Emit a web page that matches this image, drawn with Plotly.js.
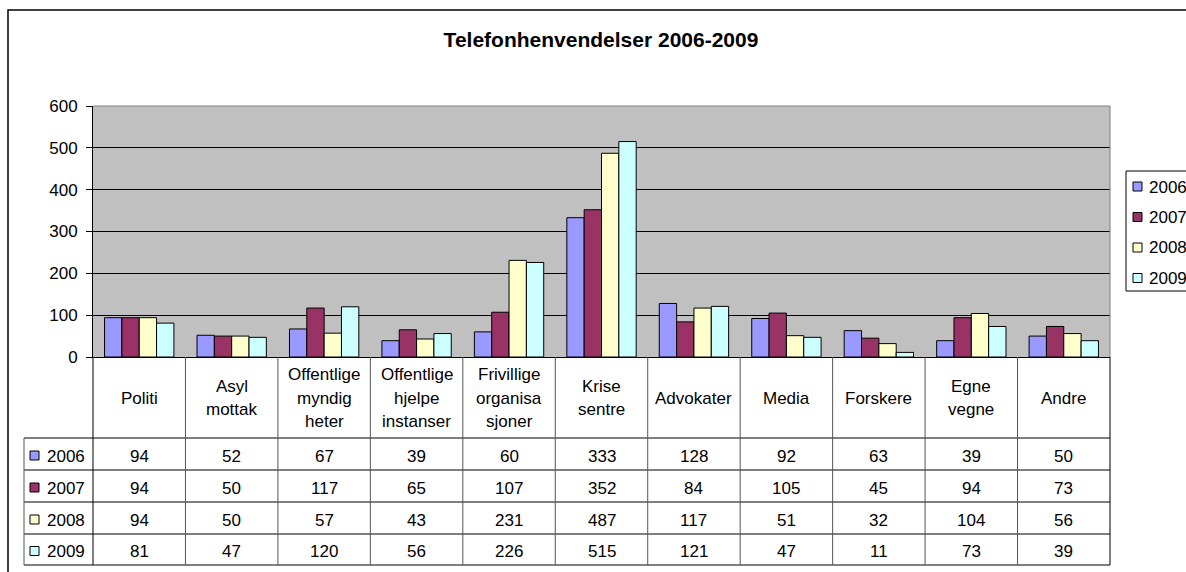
<!DOCTYPE html>
<html>
<head>
<meta charset="utf-8">
<script src="https://cdn.plot.ly/plotly-3.0.1.min.js"></script>
<style>
  body { margin: 0; background: #fff; }
  #chart { width: 1186px; height: 572px; }
</style>
</head>
<body>
<div id="chart"></div>
<script>
// categories (line breaks as in the original table header)
const categories = ['Politi', 'Asyl<br>mottak', 'Offentlige<br>myndig<br>heter',
  'Offentlige<br>hjelpe<br>instanser', 'Frivillige<br>organisa<br>sjoner',
  'Krise<br>sentre', 'Advokater', 'Media', 'Forskere', 'Egne<br>vegne', 'Andre'];
const years = ['2006', '2007', '2008', '2009'];
const v2006 = [94, 52, 67, 39, 60, 333, 128, 92, 63, 39, 50];
const v2007 = [94, 50, 117, 65, 107, 352, 84, 105, 45, 94, 73];
const v2008 = [94, 50, 57, 43, 231, 487, 117, 51, 32, 104, 56];
const v2009 = [81, 47, 120, 56, 226, 515, 121, 47, 11, 73, 39];
const yTicks = [0, 100, 200, 300, 400, 500, 600];

const colors = ['#9999FF', '#993366', '#FFFFCC', '#CCFFFF'];
const series = [v2006, v2007, v2008, v2009];
const fontFam = 'Liberation Sans, Arial, sans-serif';
const txtSize = 17;

// plot area in pixels, helpers to go from pixels to paper coords
const L = 93, R = 1110, T = 106, B = 357;
function fx(p) { return (p - L) / (R - L); }
function fy(p) { return (B - p) / (B - T); }
const colW = (R - L) / categories.length;

var data = years.map(function (yr, k) {
  return {
    type: 'bar',
    x: categories,
    y: series[k],
    name: yr,
    marker: { color: colors[k], line: { color: '#000', width: 1 } },
    hoverinfo: 'none',
    showlegend: false
  };
});

var shapes = [];
var annotations = [];

function hline(y, x0, x1, color) {
  shapes.push({ type: 'line', xref: 'paper', yref: 'paper', x0: fx(x0), x1: fx(x1),
    y0: fy(y), y1: fy(y), line: { color: color, width: 1 } });
}
function vline(x, y0, y1, color) {
  shapes.push({ type: 'line', xref: 'paper', yref: 'paper', x0: fx(x), x1: fx(x),
    y0: fy(y0), y1: fy(y1), line: { color: color, width: 1 } });
}

// outer chart frame (runs off the right/bottom edge like the original)
shapes.push({ type: 'rect', xref: 'paper', yref: 'paper', x0: fx(8), x1: fx(1220),
  y0: fy(10), y1: fy(600), line: { color: '#000', width: 1.5 } });

// grey top/right edge of the plot area
hline(T, L, R, '#808080');
vline(R, T, B, '#808080');

// data table
const rowTops = [438, 470, 502, 534, 565];
rowTops.forEach(function (y) { hline(y, 24, R, '#000'); });
vline(24, 438, 565, '#555');
vline(L, B, 565, '#000');
for (let k = 1; k < categories.length; k++) vline(L + k * colW, B, 565, '#555');
vline(R, B, 565, '#000');

// header cells
categories.forEach(function (c, i) {
  const lines = c.split('<br>');
  lines.forEach(function (ln, j) {
    const yc = 398 + (j - (lines.length - 1) / 2) * 23.5;
    annotations.push({ xref: 'x', yref: 'paper', x: i, y: fy(yc), text: ln,
      showarrow: false, xanchor: 'center', yanchor: 'middle',
      font: { family: fontFam, size: txtSize, color: '#000' } });
  });
});

// value rows
years.forEach(function (yr, k) {
  const yc = (rowTops[k] + rowTops[k + 1]) / 2 + 2;
  shapes.push({ type: 'rect', xref: 'paper', yref: 'paper', x0: fx(30), x1: fx(39),
    y0: fy(yc - 5), y1: fy(yc + 4), fillcolor: colors[k], line: { color: '#000', width: 1 } });
  annotations.push({ xref: 'paper', yref: 'paper', x: fx(45), y: fy(yc), text: yr,
    showarrow: false, xanchor: 'left', yanchor: 'middle',
    font: { family: fontFam, size: txtSize, color: '#000' } });
  series[k].forEach(function (v, i) {
    annotations.push({ xref: 'x', yref: 'paper', x: i, y: fy(yc), text: String(v),
      showarrow: false, xanchor: 'center', yanchor: 'middle',
      font: { family: fontFam, size: txtSize, color: '#000' } });
  });
});

// legend box on the right (clipped by the page edge as in the original)
shapes.push({ type: 'rect', xref: 'paper', yref: 'paper', x0: fx(1126), x1: fx(1230),
  y0: fy(171), y1: fy(291), fillcolor: '#fff', line: { color: '#000', width: 1 } });
years.forEach(function (yr, k) {
  const yc = 187 + k * 30.5;
  shapes.push({ type: 'rect', xref: 'paper', yref: 'paper', x0: fx(1133), x1: fx(1142),
    y0: fy(yc - 5), y1: fy(yc + 4), fillcolor: colors[k], line: { color: '#000', width: 1 } });
  annotations.push({ xref: 'paper', yref: 'paper', x: fx(1147), y: fy(yc), text: yr,
    showarrow: false, xanchor: 'left', yanchor: 'middle',
    font: { family: fontFam, size: txtSize, color: '#000' } });
});

var layout = {
  width: 1186,
  height: 572,
  margin: { l: L, r: 1186 - R, t: T, b: 572 - B, autoexpand: false },
  paper_bgcolor: '#fff',
  plot_bgcolor: '#C0C0C0',
  font: { family: fontFam, size: txtSize, color: '#000' },
  title: {
    text: '<b>Telefonhenvendelser 2006-2009</b>',
    font: { family: fontFam, size: 21, color: '#000' },
    xref: 'container', yref: 'container',
    x: 601 / 1186, y: 1 - 40 / 572, xanchor: 'center', yanchor: 'middle'
  },
  barmode: 'group',
  bargap: 0.25,
  bargroupgap: 0,
  showlegend: false,
  xaxis: {
    type: 'category',
    showticklabels: false,
    ticks: '',
    showline: true,
    linecolor: '#000',
    linewidth: 1,
    showgrid: false,
    fixedrange: true
  },
  yaxis: {
    range: [0, 600],
    tickvals: yTicks,
    ticks: 'outside',
    ticklen: 6,
    tickcolor: '#000',
    ticklabelstandoff: 5,
    showline: true,
    linecolor: '#000',
    linewidth: 1,
    gridcolor: '#000',
    gridwidth: 1,
    zeroline: false,
    tickfont: { family: fontFam, size: txtSize, color: '#000' },
    fixedrange: true
  },
  shapes: shapes,
  annotations: annotations
};

Plotly.newPlot('chart', data, layout, { displayModeBar: false, staticPlot: true });
</script>
</body>
</html>
